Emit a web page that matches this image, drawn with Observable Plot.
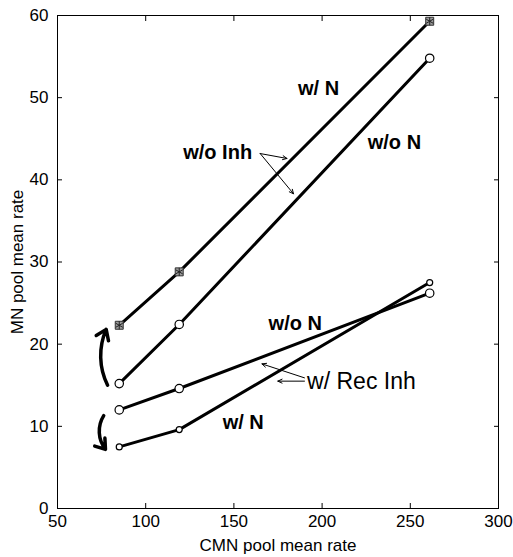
<!DOCTYPE html>
<html><head><meta charset="utf-8">
<script src="https://cdn.jsdelivr.net/npm/d3@7"></script>
<script src="https://cdn.jsdelivr.net/npm/@observablehq/plot@0.6"></script>
<style>body{margin:0;background:#fff;}</style>
</head><body><div id="chart"></div>
<script>
// x values (CMN pool mean rate)
const cmnRate = [85, 119, 261];
// MN pool mean rate for each condition
const wN_woInh   = [22.3, 28.8, 59.3];
const woN_woInh  = [15.2, 22.4, 54.8];
const woN_recInh = [12.0, 14.6, 26.2];
const wN_recInh  = [7.5, 9.6, 27.5];

const xTicks = [50, 100, 150, 200, 250, 300];
const yTicks = [0, 10, 20, 30, 40, 50, 60];

// annotation texts (data coordinates)
const boldLabels = [
  {x: 198, y: 51.1, text: "w/ N"},
  {x: 140.8, y: 43.3, text: "w/o Inh"},
  {x: 241, y: 44.5, text: "w/o N"},
  {x: 184.8, y: 22.5, text: "w/o N"},
  {x: 155.3, y: 10.5, text: "w/ N"}
];
const plainLabels = [{x: 191.5, y: 15.4, text: "w/ Rec Inh"}];
const pointerArrows = [
  {x1: 164.9, y1: 43.2, x2: 180.1, y2: 42.6},
  {x1: 164.9, y1: 43.2, x2: 183.8, y2: 38.3},
  {x1: 190.0, y1: 15.9, x2: 165.9, y2: 17.6},
  {x1: 190.0, y1: 15.5, x2: 174.9, y2: 15.5}
];
const upArrow = [{x1: 78.4, y1: 15.0, x2: 77.6, y2: 21.8}];
const downArrow = [{x1: 76.2, y1: 11.3, x2: 77.2, y2: 7.2}];

const series = [
  {name: "wN_woInh", values: wN_woInh},
  {name: "woN_woInh", values: woN_woInh},
  {name: "woN_recInh", values: woN_recInh},
  {name: "wN_recInh", values: wN_recInh}
];
const rows = series.flatMap(s => s.values.map((v, i) => ({series: s.name, x: cmnRate[i], y: v})));
const pick = name => rows.filter(d => d.series === name);

const font = "Liberation Sans, Arial, Helvetica, sans-serif";

const chart = Plot.plot({
  width: 513,
  height: 557,
  marginLeft: 57,
  marginRight: 15,
  marginTop: 15,
  marginBottom: 49,
  style: {fontFamily: font, fontSize: "17px", background: "white", color: "black"},
  x: {domain: [50, 300]},
  y: {domain: [0, 60]},
  marks: [
    Plot.frame({stroke: "black", strokeWidth: 1}),
    Plot.axisX(xTicks, {anchor: "bottom", tickSize: -5, tickPadding: 11, label: "CMN pool mean rate", labelAnchor: "center", labelArrow: "none", labelOffset: 42, fontSize: 17}),
    Plot.axisX(xTicks, {anchor: "top", tickSize: -5, tickFormat: () => "", label: null}),
    Plot.axisY(yTicks, {anchor: "left", tickSize: -5, tickPadding: 14, label: "MN pool mean rate", labelAnchor: "center", labelOffset: 47, labelArrow: "none", fontSize: 17}),
    Plot.axisY(yTicks, {anchor: "right", tickSize: -5, tickFormat: () => "", label: null}),
    Plot.line(rows, {x: "x", y: "y", z: "series", stroke: "black", strokeWidth: 3}),
    Plot.dot(pick("wN_woInh"), {x: "x", y: "y", symbol: "square", r: 4.5, fill: "#9a9a9a", stroke: "#333", strokeWidth: 1}),
    Plot.dot(pick("wN_woInh"), {x: "x", y: "y", symbol: "asterisk", r: 3.8, stroke: "#222", strokeWidth: 1}),
    Plot.dot(pick("woN_woInh"), {x: "x", y: "y", r: 4.2, fill: "white", stroke: "black", strokeWidth: 1.2}),
    Plot.dot(pick("woN_recInh"), {x: "x", y: "y", r: 4.2, fill: "white", stroke: "black", strokeWidth: 1.2}),
    Plot.dot(pick("wN_recInh"), {x: "x", y: "y", r: 3, fill: "white", stroke: "black", strokeWidth: 1.2}),
    Plot.arrow(upArrow, {x1: "x1", y1: "y1", x2: "x2", y2: "y2", bend: 25, stroke: "black", strokeWidth: 3.5, headLength: 5, headAngle: 70}),
    Plot.arrow(downArrow, {x1: "x1", y1: "y1", x2: "x2", y2: "y2", bend: -35, stroke: "black", strokeWidth: 3.5, headLength: 5, headAngle: 70}),
    Plot.arrow(pointerArrows, {x1: "x1", y1: "y1", x2: "x2", y2: "y2", stroke: "black", strokeWidth: 1, headLength: 7, headAngle: 50}),
    Plot.text(boldLabels, {x: "x", y: "y", text: "text", fontSize: 20, fontWeight: "bold", fontFamily: font, fill: "black"}),
    Plot.text(plainLabels, {x: "x", y: "y", text: "text", fontSize: 23, fontFamily: font, textAnchor: "start", fill: "black"})
  ]
});
document.getElementById("chart").appendChild(chart);
</script>
</body></html>
